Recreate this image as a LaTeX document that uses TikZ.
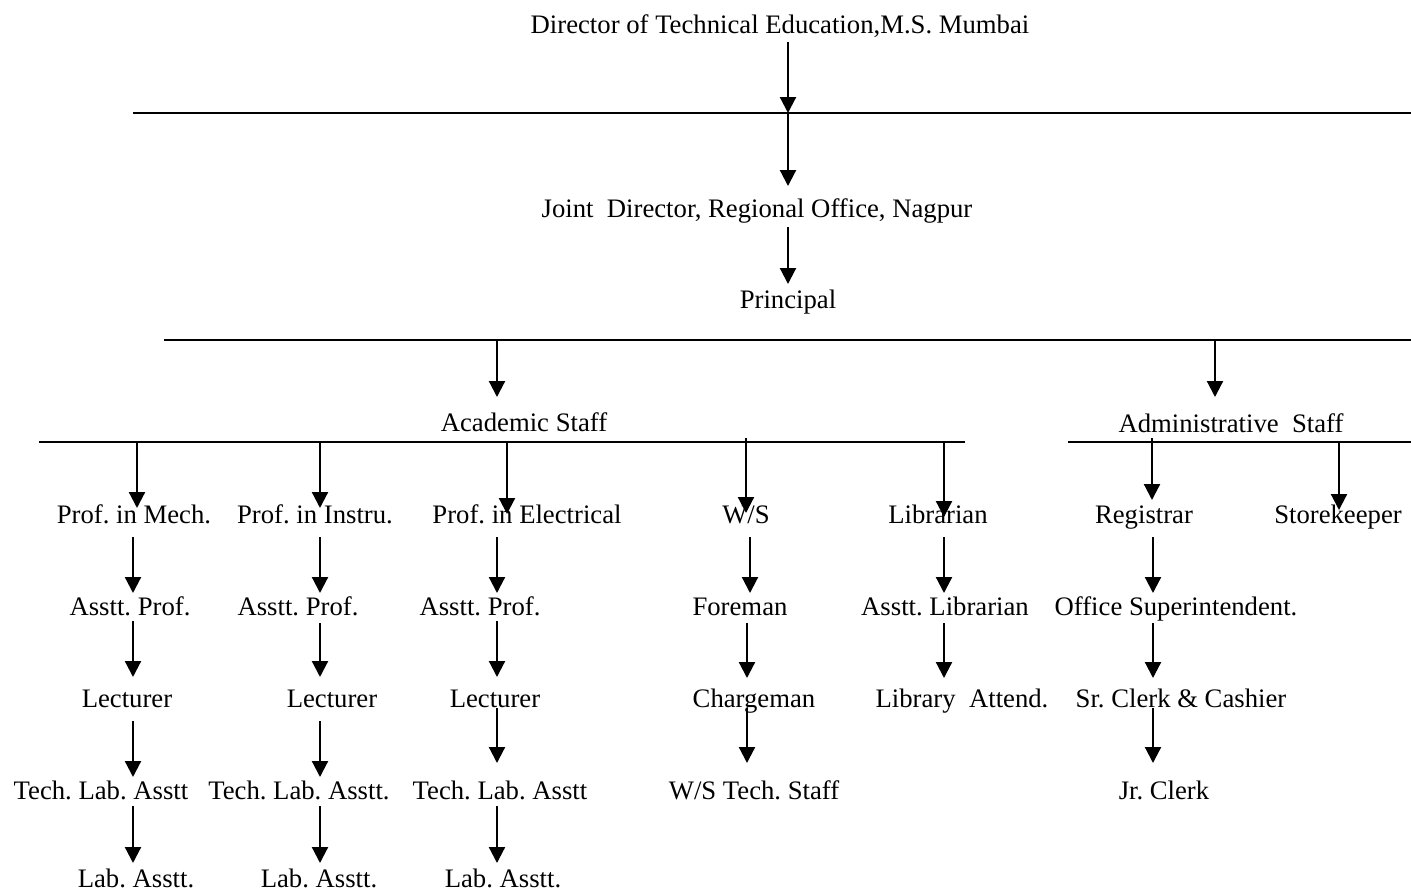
\documentclass[tikz,border=0pt]{standalone}
\usepackage{fontspec}
\setmainfont{Liberation Serif}
\usetikzlibrary{arrows.meta}
\frenchspacing
\begin{document}
\begin{tikzpicture}[x=1pt,y=-1pt,
  lbl/.style={anchor=base,inner sep=0pt,font=\fontsize{26.7}{30}\selectfont},
  arr/.style={line width=2.2pt,-{Triangle[width=16pt,length=16pt]}},
  bar/.style={line width=2.2pt}]
\useasboundingbox (0,0) rectangle (1411,892);
% texts
\node[lbl] (dte) at (780,33) {Director of Technical Education,M.S. Mumbai};
\node[lbl] (jd) at (757,217) {Joint\ \ Director, Regional Office, Nagpur};
\node[lbl] (pr) at (788,308) {Principal};
\node[lbl] (acs) at (524,431) {Academic Staff};
\node[lbl] (ads) at (1231,432) {Administrative\ \ Staff};
% row 1
\node[lbl] (pm) at (134,523) {Prof. in Mech.};
\node[lbl] (pi) at (315,523) {Prof. in Instru.};
\node[lbl] (pe) at (527,523) {Prof. in Electrical};
\node[lbl] (ws) at (746,523) {W/S};
\node[lbl] (lib) at (938,523) {Librarian};
\node[lbl] (reg) at (1144,523) {Registrar};
\node[lbl] (sk) at (1338,523) {Storekeeper};
% row 2
\node[lbl] (ap1) at (130,615) {Asstt. Prof.};
\node[lbl] (ap2) at (298,615) {Asstt. Prof.};
\node[lbl] (ap3) at (480,615) {Asstt. Prof.};
\node[lbl] (fm) at (740,615) {Foreman};
\node[lbl] (al) at (945,615) {Asstt. Librarian};
\node[lbl] (os) at (1176,615) {Office Superintendent.};
% row 3
\node[lbl] (lc1) at (127,707) {Lecturer};
\node[lbl] (lc2) at (332,707) {Lecturer};
\node[lbl] (lc3) at (495,707) {Lecturer};
\node[lbl] (cm) at (754,707) {Chargeman};
\node[lbl] (la) at (962,707) {Library\ \ Attend.};
\node[lbl] (sc) at (1181,707) {Sr. Clerk \& Cashier};
% row 4
\node[lbl] (tl1) at (101,799) {Tech. Lab. Asstt};
\node[lbl] (tl2) at (299,799) {Tech. Lab. Asstt.};
\node[lbl] (tl3) at (500,799) {Tech. Lab. Asstt};
\node[lbl] (wst) at (754,799) {W/S Tech. Staff};
\node[lbl] (jc) at (1164,799) {Jr. Clerk};
% row 5
\node[lbl] (la1) at (136,887) {Lab. Asstt.};
\node[lbl] (la2) at (319,887) {Lab. Asstt.};
\node[lbl] (la3) at (503,887) {Lab. Asstt.};
% horizontal bars
\foreach \n/\xa/\xb/\y in {h1/133/1411/113, h2/164/1411/340, h3/39/965/442, h4/1068/1411/442}{
  \coordinate (\n a) at (\xa,\y);
  \coordinate (\n b) at (\xb,\y);
  \draw[bar] (\n a) -- (\n b);
}
% arrows
\foreach \n/\x/\ya/\yb in {
  1/788/42/113, 2/788/113/186, 3/788/227/284, 4/497/340/397, 5/1215/340/397,
  6/137/442/508, 7/320/442/508, 8/507/442/514, 9/746/438/513, 10/944/442/517, 11/1152/438/500, 12/1339/442/510,
  13/133/537/593, 14/320/537/593, 15/497/537/593, 16/750/537/593, 17/944/537/593, 18/1153/537/593,
  19/133/621/677, 20/320/623/677, 21/497/621/677, 22/747/623/678, 23/944/623/678, 24/1153/623/678,
  25/133/721/777, 26/320/721/777, 27/497/708/763, 28/747/708/763, 29/1153/708/763,
  30/133/806/863, 31/320/806/863, 32/497/806/863}{
  \coordinate (s\n) at (\x,\ya);
  \coordinate (e\n) at (\x,\yb);
  \draw[arr] (s\n) -- (e\n);
}
\end{tikzpicture}
\end{document}
